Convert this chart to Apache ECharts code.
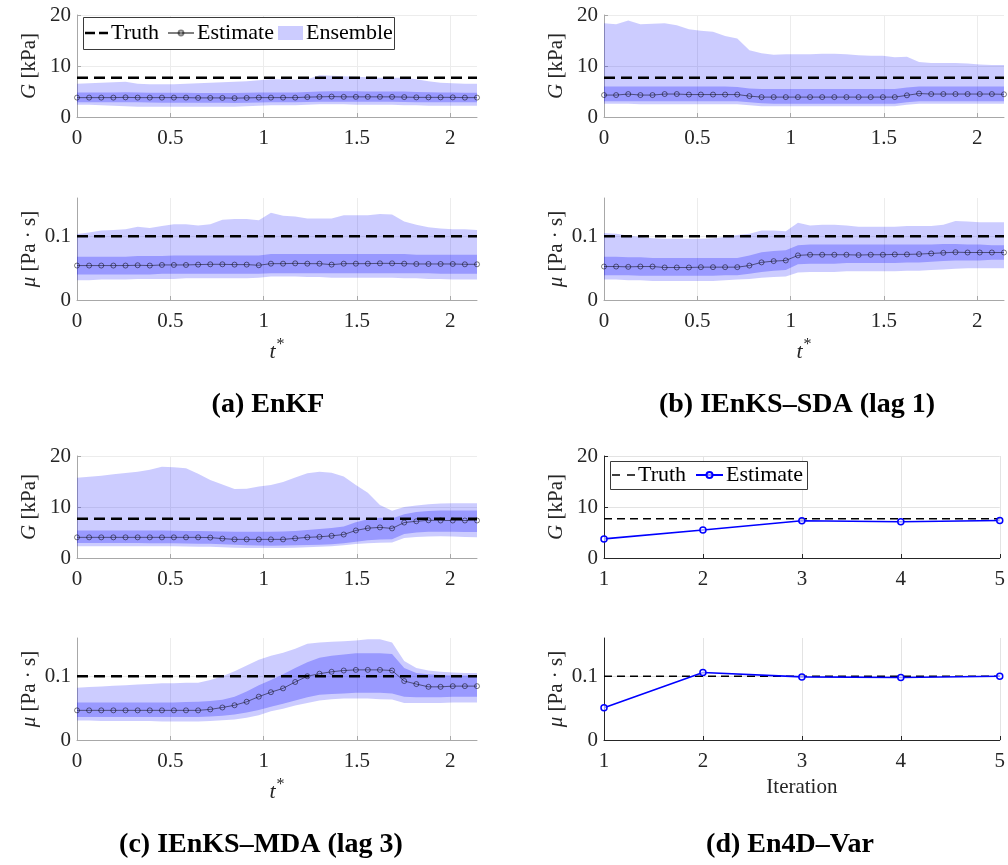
<!DOCTYPE html>
<html><head><meta charset="utf-8">
<script src="https://cdn.jsdelivr.net/npm/echarts@6/dist/echarts.min.js"></script>
<style>html,body{margin:0;padding:0;background:#fff}#c{width:1008px;height:865px}</style>
</head><body><div id="c"></div>
<script>
// ---------- data ----------
const T = [0,0.065,0.130,0.195,0.260,0.325,0.390,0.455,0.519,0.584,0.649,0.714,0.779,0.844,0.909,0.974,1.039,1.104,1.169,1.234,1.299,1.364,1.429,1.494,1.558,1.623,1.688,1.753,1.818,1.883,1.948,2.013,2.078,2.143];
const TRUTH_G = 7.7;
const TRUTH_MU = 0.1;

// (a) EnKF
const aG_est    = [3.8,3.8,3.8,3.8,3.85,3.8,3.8,3.8,3.8,3.8,3.75,3.75,3.75,3.7,3.75,3.8,3.8,3.8,3.8,3.9,3.95,4.0,3.95,3.95,3.95,3.95,3.95,3.9,3.85,3.85,3.85,3.85,3.8,3.8];
const aG_in_hi  = [4.8,4.8,4.8,4.8,4.85,4.8,4.75,4.75,4.75,4.75,4.7,4.7,4.7,4.7,4.75,4.8,4.8,4.8,4.8,4.9,5.0,5.05,5.05,5.05,5.0,5.0,5.0,5.0,4.9,4.85,4.8,4.8,4.75,4.75];
const aG_in_lo  = [2.9,2.9,2.9,2.9,2.9,2.9,2.85,2.8,2.8,2.8,2.8,2.8,2.8,2.75,2.8,2.85,2.9,2.9,2.9,2.95,3.0,3.0,3.0,3.0,3.0,3.0,3.0,2.95,2.9,2.9,2.9,2.9,2.9,2.9];
const aG_out_hi = [6.5,6.6,6.7,6.8,6.9,6.5,6.4,6.4,6.4,6.5,6.6,6.7,6.8,6.9,7.0,7.2,7.4,7.4,7.3,7.4,8.2,8.1,8.0,7.9,7.8,7.7,7.7,7.7,7.4,7.0,6.7,6.6,6.5,6.5];
const aG_out_lo = [2.4,2.4,2.3,2.2,2.1,2.0,2.0,2.0,2.0,2.0,2.0,2.0,2.0,2.0,2.1,2.2,2.3,2.3,2.3,2.4,2.5,2.5,2.5,2.4,2.4,2.4,2.4,2.3,2.3,2.2,2.2,2.2,2.2,2.2];
const aM_est    = [0.054,0.054,0.054,0.054,0.054,0.0545,0.054,0.055,0.055,0.055,0.0555,0.056,0.056,0.0555,0.0555,0.0545,0.057,0.057,0.0575,0.057,0.057,0.0555,0.057,0.057,0.057,0.0575,0.0575,0.057,0.0565,0.0565,0.0565,0.0565,0.056,0.056];
const aM_in_hi  = [0.068,0.068,0.068,0.068,0.068,0.069,0.069,0.069,0.07,0.07,0.07,0.07,0.07,0.07,0.07,0.07,0.072,0.072,0.072,0.072,0.072,0.072,0.072,0.072,0.072,0.072,0.072,0.072,0.071,0.071,0.071,0.071,0.071,0.071];
const aM_in_lo  = [0.04,0.04,0.04,0.04,0.04,0.04,0.04,0.041,0.041,0.041,0.041,0.041,0.041,0.041,0.041,0.041,0.042,0.042,0.042,0.042,0.042,0.042,0.042,0.042,0.042,0.042,0.042,0.042,0.042,0.042,0.041,0.041,0.041,0.041];
const aM_out_hi = [0.1035,0.106,0.109,0.110,0.111,0.115,0.113,0.116,0.119,0.119,0.117,0.119,0.126,0.127,0.127,0.125,0.137,0.132,0.131,0.128,0.128,0.128,0.133,0.133,0.133,0.135,0.134,0.123,0.118,0.114,0.112,0.111,0.111,0.110];
const aM_out_lo = [0.031,0.031,0.032,0.032,0.032,0.033,0.033,0.033,0.033,0.034,0.034,0.034,0.034,0.034,0.034,0.035,0.037,0.037,0.037,0.036,0.036,0.035,0.035,0.035,0.035,0.035,0.035,0.034,0.034,0.033,0.033,0.032,0.032,0.032];

// (b) IEnKS-SDA (lag 1)
const bG_est    = [4.3,4.3,4.5,4.3,4.3,4.5,4.5,4.4,4.4,4.4,4.4,4.4,4.1,3.9,3.9,3.9,3.9,3.9,3.9,3.9,3.9,3.9,3.9,3.9,3.9,4.25,4.6,4.5,4.5,4.5,4.5,4.5,4.5,4.45];
const bG_in_hi  = [6.0,6.0,6.0,6.0,6.0,6.0,6.0,6.0,6.0,6.0,6.0,5.9,5.6,5.5,5.5,5.5,5.5,5.5,5.5,5.5,5.5,5.5,5.5,5.5,5.5,5.8,6.0,6.0,6.0,6.0,6.0,6.0,6.0,6.0];
const bG_in_lo  = [3.1,3.1,3.1,3.1,3.1,3.1,3.1,3.1,3.1,3.1,3.1,3.1,2.9,2.7,2.6,2.6,2.6,2.6,2.6,2.6,2.6,2.6,2.6,2.6,2.6,2.9,3.1,3.1,3.1,3.1,3.1,3.1,3.1,3.1];
const bG_out_hi = [18.4,18.2,18.9,18.2,18.3,18.4,18.0,17.2,16.9,16.7,15.9,15.4,13.1,12.5,12.2,12.3,12.3,12.3,12.4,12.4,12.3,12.1,12.0,12.0,11.7,11.8,10.8,10.6,10.6,10.6,10.5,10.3,10.2,10.2];
const bG_out_lo = [2.6,2.6,2.6,2.5,2.5,2.5,2.5,2.5,2.5,2.5,2.5,2.5,2.3,2.1,2.1,2.1,2.1,2.1,2.1,2.1,2.1,2.1,2.1,2.1,2.1,2.4,2.6,2.6,2.6,2.6,2.6,2.6,2.6,2.6];
const bM_est    = [0.0525,0.0525,0.052,0.0525,0.0525,0.051,0.051,0.051,0.0515,0.0515,0.0515,0.0515,0.054,0.059,0.061,0.062,0.070,0.071,0.071,0.071,0.071,0.0705,0.071,0.071,0.0715,0.0715,0.072,0.073,0.074,0.075,0.0745,0.0745,0.0745,0.0745];
const bM_in_hi  = [0.068,0.068,0.067,0.067,0.066,0.066,0.066,0.066,0.066,0.066,0.066,0.066,0.070,0.075,0.077,0.078,0.086,0.087,0.087,0.087,0.087,0.087,0.087,0.087,0.087,0.087,0.087,0.087,0.088,0.088,0.087,0.087,0.086,0.086];
const bM_in_lo  = [0.039,0.039,0.039,0.038,0.038,0.038,0.038,0.038,0.038,0.038,0.039,0.039,0.041,0.044,0.046,0.047,0.056,0.057,0.057,0.057,0.058,0.058,0.058,0.058,0.058,0.059,0.059,0.060,0.061,0.062,0.062,0.062,0.063,0.063];
const bM_out_hi = [0.105,0.104,0.101,0.099,0.097,0.096,0.096,0.096,0.096,0.097,0.099,0.102,0.104,0.109,0.109,0.108,0.121,0.117,0.118,0.118,0.117,0.115,0.115,0.115,0.115,0.116,0.116,0.116,0.118,0.124,0.123,0.122,0.122,0.122];
const bM_out_lo = [0.032,0.032,0.031,0.031,0.030,0.030,0.030,0.030,0.030,0.030,0.031,0.032,0.033,0.035,0.036,0.037,0.043,0.044,0.044,0.044,0.045,0.045,0.045,0.045,0.045,0.046,0.046,0.047,0.048,0.049,0.050,0.050,0.050,0.050];

// (c) IEnKS-MDA (lag 3)
const cG_est    = [4.05,4.05,4.05,4.05,4.05,4.05,4.05,4.05,4.05,4.05,4.05,4.0,3.8,3.65,3.65,3.65,3.65,3.65,3.85,4.05,4.15,4.35,4.6,5.4,5.85,6.0,5.8,6.95,7.2,7.4,7.35,7.35,7.35,7.35];
const cG_in_hi  = [5.4,5.4,5.4,5.4,5.4,5.4,5.4,5.4,5.35,5.3,5.3,5.25,5.2,5.15,5.15,5.15,5.15,5.2,5.3,5.5,5.7,5.9,6.2,7.0,7.6,7.9,7.75,8.6,9.0,9.2,9.3,9.3,9.3,9.3];
const cG_in_lo  = [2.95,2.95,2.95,2.95,2.95,2.95,2.9,2.9,2.9,2.85,2.8,2.8,2.7,2.6,2.5,2.45,2.4,2.45,2.5,2.55,2.6,2.7,2.9,3.2,3.5,3.65,3.7,4.7,5.0,5.15,5.15,5.15,5.1,5.1];
const cG_out_hi = [15.75,15.95,16.15,16.4,16.65,16.9,17.3,17.9,17.8,17.6,16.5,15.3,14.4,13.55,13.6,14.0,14.3,14.9,15.8,16.6,16.9,16.7,16.0,14.3,12.8,10.4,9.25,10.0,10.3,10.55,10.7,10.75,10.75,10.75];
const cG_out_lo = [2.3,2.3,2.3,2.3,2.3,2.3,2.3,2.3,2.3,2.25,2.2,2.2,2.1,2.0,1.95,1.95,1.95,1.95,2.0,2.1,2.2,2.3,2.5,2.75,2.9,3.0,3.05,3.9,4.1,4.2,4.25,4.2,4.1,4.05];
const cM_est    = [0.0465,0.0465,0.0465,0.0465,0.0465,0.0465,0.0465,0.0465,0.0465,0.0465,0.0465,0.048,0.051,0.0545,0.060,0.068,0.075,0.081,0.091,0.100,0.104,0.107,0.109,0.110,0.110,0.110,0.109,0.0925,0.0877,0.0834,0.0834,0.0845,0.0845,0.0845];
const cM_in_hi  = [0.059,0.059,0.059,0.059,0.059,0.059,0.059,0.059,0.059,0.0595,0.060,0.061,0.063,0.068,0.076,0.086,0.094,0.103,0.113,0.122,0.129,0.132,0.134,0.136,0.136,0.136,0.135,0.113,0.105,0.103,0.102,0.101,0.101,0.101];
const cM_in_lo  = [0.036,0.036,0.036,0.036,0.036,0.036,0.036,0.036,0.036,0.036,0.036,0.037,0.038,0.040,0.043,0.047,0.052,0.057,0.062,0.067,0.071,0.072,0.073,0.074,0.074,0.074,0.073,0.068,0.067,0.067,0.067,0.068,0.068,0.068];
const cM_out_hi = [0.082,0.083,0.084,0.085,0.086,0.087,0.088,0.089,0.089,0.090,0.090,0.094,0.100,0.108,0.117,0.126,0.132,0.137,0.143,0.151,0.153,0.154,0.155,0.156,0.158,0.158,0.153,0.124,0.113,0.109,0.107,0.106,0.105,0.105];
const cM_out_lo = [0.0305,0.0305,0.030,0.030,0.030,0.030,0.030,0.029,0.029,0.029,0.029,0.030,0.031,0.032,0.035,0.039,0.045,0.049,0.054,0.058,0.062,0.064,0.065,0.065,0.065,0.064,0.0635,0.058,0.058,0.058,0.058,0.059,0.059,0.059];

// (d) En4D-Var
const ITER   = [1,2,3,4,5];
const dG_est = [3.75,5.5,7.3,7.1,7.35];
const dM_est = [0.0505,0.106,0.099,0.098,0.100];

// ---------- chart ----------
const FONT = 'Liberation Serif';
const TXT = '#262626';
const AX_LIGHT = '#a8a8a8';
const GRIDC = '#ececec';
const OUTER = 'rgba(0,0,255,0.2)';
const INNER = 'rgba(0,0,255,0.25)';
const EST = 'rgba(0,0,0,0.5)';

const grids = [
  {left:77,  top:15,  width:400, height:102},
  {left:77,  top:198, width:400, height:102},
  {left:604, top:15,  width:400, height:102},
  {left:604, top:198, width:400, height:102},
  {left:77,  top:456, width:400, height:102},
  {left:77,  top:638, width:400, height:102},
  {left:604, top:456, width:400, height:102},
  {left:604, top:638, width:400, height:102}
];

const richIt = {
  it: {fontFamily: FONT, fontSize: 22, fontStyle: 'italic', color: TXT, lineHeight: 30},
  sup: {fontFamily: FONT, fontSize: 16, color: TXT, verticalAlign: 'top', lineHeight: 16, padding: [0, 0, 0, 1]}
};

function xAx(gi, opts) {
  const dark = opts.dark;
  return {
    type: 'value', gridIndex: gi, min: opts.min, max: opts.max, interval: opts.interval,
    axisLine: {show: true, onZero: false, lineStyle: {color: dark ? TXT : AX_LIGHT, width: 1}},
    axisTick: {show: true, inside: true, length: 4, lineStyle: {color: dark ? TXT : AX_LIGHT}},
    axisLabel: {color: TXT, fontFamily: FONT, fontSize: 21, margin: 11, showMaxLabel: !!dark},
    splitLine: {show: true, showMinLine: false, showMaxLine: !!dark, lineStyle: {color: dark ? '#e3e3e3' : GRIDC}},
    name: opts.name || '', nameLocation: 'middle', nameGap: 37,
    nameTextStyle: {fontFamily: FONT, fontSize: 21, color: TXT, rich: richIt}
  };
}
function yAx(gi, opts) {
  const dark = opts.dark;
  return {
    type: 'value', gridIndex: gi, min: 0, max: opts.max, interval: opts.interval,
    axisLine: {show: true, onZero: false, lineStyle: {color: dark ? TXT : AX_LIGHT, width: 1}},
    axisTick: {show: true, inside: true, length: 4, lineStyle: {color: dark ? TXT : AX_LIGHT}},
    axisLabel: {color: TXT, fontFamily: FONT, fontSize: 21, margin: 6, showMaxLabel: opts.max === 20},
    splitLine: {show: true, showMinLine: false, showMaxLine: opts.max === 20, lineStyle: {color: dark ? '#e3e3e3' : GRIDC}},
    name: opts.name, nameLocation: 'middle', nameGap: 37, nameRotate: 90,
    nameTextStyle: {fontFamily: FONT, fontSize: 21, color: TXT, rich: {it: {fontFamily: FONT, fontSize: 21, fontStyle: 'italic', color: TXT}}}
  };
}

const G_NAME = '{it|G} [kPa]';
const MU_NAME = '{it|μ} [Pa · s]';
const T_NAME = '{it|t}{sup|*}';
const TMAX = T[T.length - 1];

const xAxes = [], yAxes = [];
for (let gi = 0; gi < 6; gi++) {
  const bottom = (gi % 2 === 1);
  xAxes.push(xAx(gi, {min: 0, max: TMAX, interval: 0.5, name: bottom ? T_NAME : ''}));
  yAxes.push(yAx(gi, bottom ? {max: 0.16, interval: 0.1, name: MU_NAME} : {max: 20, interval: 10, name: G_NAME}));
}
xAxes.push(xAx(6, {min: 1, max: 5, interval: 1, dark: true, name: ''}));
yAxes.push(yAx(6, {max: 20, interval: 10, dark: true, name: G_NAME}));
xAxes.push(xAx(7, {min: 1, max: 5, interval: 1, dark: true, name: 'Iteration'}));
yAxes.push(yAx(7, {max: 0.16, interval: 0.1, dark: true, name: MU_NAME}));

function band(name, gi, lo, hi, color) {
  return {
    type: 'custom', name: name, xAxisIndex: gi, yAxisIndex: gi, clip: true, silent: true,
    itemStyle: {color: color},
    data: T.map((t, i) => [t, lo[i], hi[i]]),
    encode: {x: 0, y: [1, 2]},
    renderItem: function (params, api) {
      if (params.dataIndex !== 0) return null;
      const pts = [];
      for (let i = 0; i < T.length; i++) pts.push(api.coord([T[i], hi[i]]));
      for (let i = T.length - 1; i >= 0; i--) pts.push(api.coord([T[i], lo[i]]));
      return {type: 'polygon', shape: {points: pts}, style: {fill: color}};
    }
  };
}
function truth(name, gi, val, x0, x1, thin) {
  return {
    type: 'line', name: name, xAxisIndex: gi, yAxisIndex: gi, silent: true,
    data: [[x0, val], [x1, val]], symbol: 'none',
    lineStyle: thin ? {color: '#000', width: 1.3, type: [8, 5]} : {color: '#000', width: 2.6, type: [11, 6]},
    itemStyle: {color: '#000'}
  };
}
function est(name, gi, vals) {
  return {
    type: 'line', name: name, xAxisIndex: gi, yAxisIndex: gi, silent: true,
    data: T.map((t, i) => [t, vals[i]]),
    symbol: 'circle', symbolSize: 5,
    lineStyle: {color: EST, width: 1},
    itemStyle: {color: 'rgba(255,255,255,0)', borderColor: EST, borderWidth: 1}
  };
}

const panels = [
  [aG_est, aG_in_lo, aG_in_hi, aG_out_lo, aG_out_hi, TRUTH_G],
  [aM_est, aM_in_lo, aM_in_hi, aM_out_lo, aM_out_hi, TRUTH_MU],
  [bG_est, bG_in_lo, bG_in_hi, bG_out_lo, bG_out_hi, TRUTH_G],
  [bM_est, bM_in_lo, bM_in_hi, bM_out_lo, bM_out_hi, TRUTH_MU],
  [cG_est, cG_in_lo, cG_in_hi, cG_out_lo, cG_out_hi, TRUTH_G],
  [cM_est, cM_in_lo, cM_in_hi, cM_out_lo, cM_out_hi, TRUTH_MU]
];

const series = [];
panels.forEach((p, gi) => {
  series.push(truth(gi === 0 ? 'Truth_a' : 'truth' + gi, gi, p[5], 0, TMAX, false));
  series.push(band(gi === 0 ? 'Ensemble' : 'outer' + gi, gi, p[3], p[4], OUTER));
  series.push(band('inner' + gi, gi, p[1], p[2], INNER));
  series.push(est(gi === 0 ? 'Estimate_a' : 'est' + gi, gi, p[0]));
});
function dEst(name, gi, vals) {
  return {
    type: 'line', name: name, xAxisIndex: gi, yAxisIndex: gi, silent: true,
    data: ITER.map((k, i) => [k, vals[i]]),
    symbol: 'circle', symbolSize: 6,
    lineStyle: {color: '#0000ff', width: 1.6},
    itemStyle: {color: 'rgba(255,255,255,0.6)', borderColor: '#0000ff', borderWidth: 1.5}
  };
}
series.push(truth('Truth_d', 6, TRUTH_G, 1, 5, true));
series.push(dEst('Estimate_d', 6, dG_est));
series.push(truth('truth7', 7, TRUTH_MU, 1, 5, true));
series.push(dEst('est7', 7, dM_est));

function leg(left, top, item, w, h) {
  return {
    left: left, top: top, orient: 'horizontal', selectedMode: false, padding: 0,
    formatter: n => n.split('_')[0],
    itemWidth: w, itemHeight: h, itemGap: 0,
    textStyle: {fontFamily: FONT, fontSize: 22, color: '#000', padding: [0, 0, 0, -2]},
    data: [item]
  };
}
const DASH_THICK = 'path://M0,0h10v2.6h-10zM14,0h9v2.6h-9z';
const DASH_THIN = 'path://M0,0h8v1.3h-8zM15,0h8v1.3h-8z';

const titleFont = 'bold 28px "Liberation Serif"';
const option = {
  animation: false,
  backgroundColor: '#fff',
  grid: grids,
  xAxis: xAxes,
  yAxis: yAxes,
  legend: [
    leg(85, 22, {name: 'Truth_a', icon: DASH_THICK, itemStyle: {color: '#000'}}, 23, 2.6),
    leg(167, 22, {name: 'Estimate_a'}, 26, 6),
    leg(278, 22, {name: 'Ensemble', icon: 'rect'}, 25, 14),
    leg(612, 464, {name: 'Truth_d', icon: DASH_THIN, itemStyle: {color: '#000'}}, 23, 1.3),
    leg(695, 464, {name: 'Estimate_d'}, 27, 7.5)
  ],
  series: series,
  graphic: [
    {type: 'rect', z: 3, shape: {x: 83.5, y: 17.5, width: 311, height: 32}, style: {fill: '#fff', stroke: '#3a3a3a', lineWidth: 1}},
    {type: 'rect', z: 3, shape: {x: 610.5, y: 461.5, width: 197, height: 28}, style: {fill: '#fff', stroke: '#3a3a3a', lineWidth: 1}},
    {type: 'text', x: 268, y: 405, style: {text: '(a) EnKF', font: titleFont, fill: '#000', textAlign: 'center', textVerticalAlign: 'middle'}},
    {type: 'text', x: 797, y: 405, style: {text: '(b) IEnKS–SDA (lag 1)', font: titleFont, fill: '#000', textAlign: 'center', textVerticalAlign: 'middle'}},
    {type: 'text', x: 261, y: 845, style: {text: '(c) IEnKS–MDA (lag 3)', font: titleFont, fill: '#000', textAlign: 'center', textVerticalAlign: 'middle'}},
    {type: 'text', x: 790, y: 845, style: {text: '(d) En4D–Var', font: titleFont, fill: '#000', textAlign: 'center', textVerticalAlign: 'middle'}}
  ]
};

const chart = echarts.init(document.getElementById('c'));
chart.setOption(option);
</script>
</body></html>
